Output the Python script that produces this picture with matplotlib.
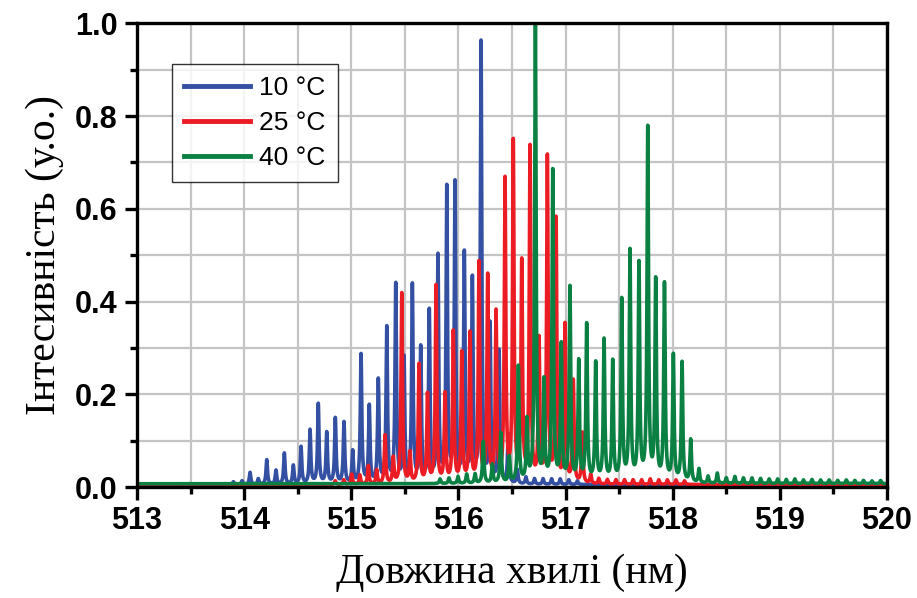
import numpy as np
import matplotlib

matplotlib.use("Agg")
import matplotlib.pyplot as plt
from matplotlib.ticker import MultipleLocator

# peak centres (nm) and peak heights (a.u.)
blue_wl = [513.90, 513.98, 514.055, 514.132, 514.211, 514.297, 514.375, 514.459,
           514.531, 514.615, 514.692, 514.771, 514.851, 514.932, 515.013, 515.091,
           515.168, 515.252, 515.331, 515.415, 515.492, 515.570, 515.648, 515.728,
           515.809, 515.891, 515.968, 516.055, 516.130, 516.211, 516.295, 516.379,
           516.465, 516.55, 516.63, 516.71, 516.79, 516.87, 516.95, 517.03, 517.11]
blue_h = [0.006, 0.008, 0.026, 0.012, 0.053, 0.030, 0.067, 0.040,
          0.080, 0.116, 0.172, 0.110, 0.141, 0.132, 0.069, 0.278,
          0.166, 0.222, 0.334, 0.427, 0.267, 0.425, 0.289, 0.368,
          0.485, 0.632, 0.642, 0.490, 0.433, 0.948, 0.339, 0.285,
          0.105, 0.030, 0.015, 0.012, 0.012, 0.012, 0.012, 0.010, 0.008]

red_wl = [514.85, 514.93, 515.004, 515.08, 515.159, 515.237, 515.315, 515.392,
          515.471, 515.548, 515.632, 515.711, 515.791, 515.875, 515.952, 516.031,
          516.108, 516.192, 516.273, 516.351, 516.435, 516.512, 516.591, 516.668,
          516.752, 516.830, 516.911, 516.995, 517.072, 517.156, 517.235, 517.31,
          517.39, 517.47, 517.55, 517.63, 517.71, 517.79, 517.87, 517.95, 518.03, 518.11]
red_h = [0.008, 0.010, 0.022, 0.020, 0.040, 0.030, 0.105, 0.055,
         0.411, 0.065, 0.256, 0.190, 0.425, 0.190, 0.325, 0.278,
         0.320, 0.472, 0.443, 0.363, 0.649, 0.730, 0.469, 0.720,
         0.303, 0.700, 0.566, 0.339, 0.220, 0.109, 0.020, 0.012,
         0.010, 0.010, 0.010, 0.010, 0.010, 0.012, 0.010, 0.010, 0.010, 0.008]

green_wl = [515.828, 515.912, 515.996, 516.077, 516.155, 516.232, 516.316, 516.395,
            516.475, 516.559, 516.640, 516.718, 516.799, 516.880, 516.960, 517.041,
            517.123, 517.197, 517.281, 517.359, 517.440, 517.524, 517.601, 517.685,
            517.767, 517.841, 517.923, 518.006, 518.087, 518.168, 518.245, 518.33,
            518.416, 518.50, 518.58, 518.66, 518.74, 518.82, 518.90, 518.98,
            519.06, 519.14, 519.22, 519.30, 519.38, 519.46, 519.54, 519.62,
            519.70, 519.78, 519.86, 519.94]
green_h = [0.010, 0.012, 0.015, 0.020, 0.020, 0.090, 0.040, 0.108,
           0.055, 0.250, 0.130, 1.000, 0.212, 0.670, 0.292, 0.418,
           0.258, 0.338, 0.255, 0.305, 0.258, 0.390, 0.495, 0.466,
           0.760, 0.430, 0.425, 0.272, 0.258, 0.092, 0.030, 0.015,
           0.022, 0.012, 0.015, 0.012, 0.012, 0.011, 0.010, 0.010,
           0.009, 0.010, 0.008, 0.009, 0.008, 0.008, 0.007, 0.008,
           0.007, 0.007, 0.006, 0.007]

series = [
    ("10 °C", blue_wl, blue_h, 0.005, "#3350a3"),
    ("25 °C", red_wl, red_h, 0.005, "#ec1c24"),
    ("40 °C", green_wl, green_h, 0.007, "#0b8043"),
]

HWHM = 0.008  # line half-width, nm
wl = np.linspace(513.0, 520.0, 7001)


def spectrum(centres, heights, floor):
    c = np.asarray(centres)[:, None]
    a = np.asarray(heights)[:, None]
    prof = a * HWHM ** 2 / ((wl[None, :] - c) ** 2 + HWHM ** 2)
    return floor + prof.sum(axis=0)


fig = plt.figure(figsize=(9.17, 5.98), dpi=100)
ax = fig.add_axes([0.1494, 0.1856, 0.8179, 0.7754])

for label, centres, heights, floor, color in series:
    ax.plot(wl, spectrum(centres, heights, floor), color=color, linewidth=2.6, label=label)

ax.set_xlim(513, 520)
ax.set_ylim(0, 1.0)
ax.xaxis.set_major_locator(MultipleLocator(1))
ax.xaxis.set_minor_locator(MultipleLocator(0.5))
ax.yaxis.set_major_locator(MultipleLocator(0.2))
ax.yaxis.set_minor_locator(MultipleLocator(0.1))
ax.grid(True, which="both", color="#c4c4c4", linewidth=1.6)
ax.set_axisbelow(True)

for s in ax.spines.values():
    s.set_linewidth(2.4)
ax.tick_params(which="major", direction="out", length=9, width=2.4, pad=5)
ax.tick_params(which="minor", direction="out", length=5, width=2.4)

tick_font = {"family": "Liberation Sans", "weight": "bold", "size": 22}
ax.set_xticks(range(513, 521))
ax.set_xticklabels([str(v) for v in range(513, 521)], fontdict=tick_font)
yt = [0.0, 0.2, 0.4, 0.6, 0.8, 1.0]
ax.set_yticks(yt)
ax.set_yticklabels([f"{v:.1f}" for v in yt], fontdict=tick_font)

ax.set_xlabel("Довжина хвилі (нм)", family="Liberation Serif", fontsize=30, labelpad=12)
ax.set_ylabel("Інтесивність (у.о.)", family="Liberation Serif", fontsize=30, labelpad=8)

leg = ax.legend(loc="upper left", bbox_to_anchor=(0.047, 0.912), frameon=True, fancybox=False,
                prop={"family": "Liberation Sans", "size": 19}, handlelength=2.5,
                handletextpad=0.35, borderpad=0.45, labelspacing=0.42, borderaxespad=0)
leg.get_frame().set_edgecolor("black")
leg.get_frame().set_linewidth(1.0)
for line in leg.get_lines():
    line.set_linewidth(3.5)

fig.savefig("out.png", dpi=100)
